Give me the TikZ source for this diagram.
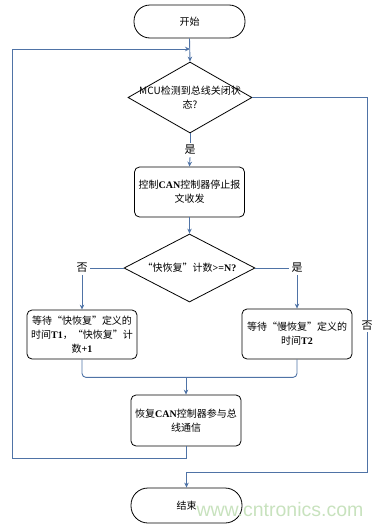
\documentclass[tikz,border=0pt]{standalone}
\usepackage{fontspec}
\setmainfont{Liberation Serif}
\newfontfamily\cjk{Noto Sans CJK SC}
\newfontfamily\wmfont{Liberation Sans}
\usetikzlibrary{shapes.geometric,arrows.meta}
\definecolor{lineblue}{RGB}{79,115,166}
\definecolor{wmgreen}{RGB}{200,226,190}
\tikzset{
  conn/.style={draw=lineblue, line width=0.9pt},
  arr/.style={conn, -{Stealth[length=5pt,width=4.5pt]}},
  txt/.style={font=\cjk\fontsize{10}{14}\selectfont, align=center, inner sep=0pt},
  proc/.style={txt, draw=black, line width=0.8pt, rounded corners=5pt, minimum width=110pt, minimum height=50pt},
  term/.style={txt, draw=black, line width=0.8pt, rounded corners=16pt, minimum width=111pt, minimum height=33pt},
  dia/.style={draw=black, line width=0.8pt, diamond, inner sep=0pt},
  lbl/.style={font=\cjk\fontsize{11}{13}\selectfont, inner sep=2pt}
}
\begin{document}
\begin{tikzpicture}[x=1pt,y=-1pt]
\useasboundingbox (0,0) rectangle (378,525);
% nodes
\node[term] (start) at (189.5,21.5) {开始};
\node[dia, minimum width=124pt, minimum height=71pt] (d1) at (190,97.5) {};
\node[txt] (d1t) at (d1) {MCU检测到总线关闭状\\态?};
\node[lbl] (yes1) at (190,150) {是};
\node[proc] (box2) at (189.5,192) {控制{\rmfamily\bfseries CAN}控制器停止报\\文收发};
\node[dia, minimum width=131pt, minimum height=68pt] (d2) at (189.5,268) {};
\node[txt] (d2t) at (d2) {“快恢复”计数{\rmfamily\bfseries >=N?}};
\node[lbl] (no2) at (82,268) {否};
\node[lbl] (yes2) at (297,268) {是};
\node[proc, minimum height=49pt] (box3) at (82,334.5) {等待“快恢复”定义的\\时间{\rmfamily\bfseries T1}，“快恢复”计\\数{\rmfamily\bfseries +1}};
\node[proc] (box4) at (297,334) {等待“慢恢复”定义的\\时间{\rmfamily\bfseries T2}};
\node[proc, minimum height=51pt] (box5) at (186,420.5) {恢复{\rmfamily\bfseries CAN}控制器参与总\\线通信};
\node[term, minimum height=35pt, rounded corners=17pt] (end) at (186.5,505.5) {结束};
\coordinate (j1) at (190,49);
\coordinate (c1) at (12,458);
\coordinate (c2) at (367,472);
\coordinate (m) at (186,377);
% connectors
\draw[arr] (start.south) -- (d1.north);
\draw[conn] (d1.south) -- (yes1.north);
\draw[arr] (yes1.south) -- (box2.north);
\draw[arr] (box2.south) -- (d2.north);
\draw[conn] (d2.west) -- (no2.east);
\draw[arr] (no2.south) -- (box3.north);
\draw[conn] (d2.east) -- (yes2.west);
\draw[arr] (yes2.south) -- (box4.north);
\draw[conn, rounded corners=4pt] (box3.south) -- ++(0,18) -| (box4.south);
\draw[arr] (m) -- (box5.north);
\draw[arr] (box5.south) |- (c1) |- (j1);
\draw[arr] (d1.east) -| (c2) -| (end.north);
\node[lbl, fill=white, inner sep=1pt] (no1) at (367,326) {否};
\node[font=\wmfont\fontsize{19.5}{20}\selectfont, text=wmgreen, inner sep=0pt] (wm) at (280,510) {www.cntronics.com};
\end{tikzpicture}
\end{document}
